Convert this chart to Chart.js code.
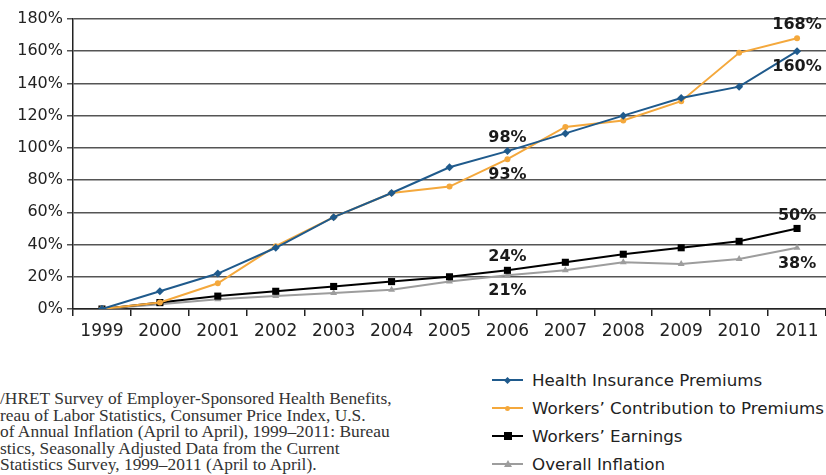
<!DOCTYPE html>
<html lang="en">
<head>
    <meta charset="UTF-8">
    <title>Cumulative Increases in Premiums, Earnings and Inflation, 1999-2011</title>
    <script src="https://cdn.jsdelivr.net/npm/chart.js"></script>
    <style>
        body {
            margin: 0;
            width: 826px;
            height: 475px;
            overflow: hidden;
            background: #fff;
            position: relative;
        }

        /* plot runs a few px past the right edge so the last band meets it */
        .chart-box {
            position: absolute;
            left: 0;
            top: 0;
            width: 831px;
            height: 345px;
        }

        .source-note {
            position: absolute;
            left: 0;
            top: 390px;
            font-family: 'Liberation Serif', 'DejaVu Serif', serif;
            font-size: 17.4px;
            line-height: 16.5px;
            color: #333;
            white-space: pre;
        }

        .legend {
            position: absolute;
            left: 492px;
            top: 366px;
            font-family: 'DejaVu Sans', sans-serif;
            font-size: 16.7px;
            color: #222;
        }

        .legend-item {
            display: flex;
            align-items: center;
            height: 28px;
            white-space: nowrap;
        }

        .legend-swatch {
            position: relative;
            width: 31px;
            height: 12px;
            margin-right: 9px;
        }

        .legend-swatch .line {
            position: absolute;
            left: 0;
            right: 0;
            top: 5px;
            height: 2px;
        }

        .legend-swatch .mark {
            position: absolute;
            left: 50%;
            top: 50%;
        }
    </style>
</head>
<body>
    <div class="chart-box">
        <canvas id="trendChart" width="831" height="345"></canvas>
    </div>

    <div class="source-note" id="sourceNote"></div>
    <div class="legend" id="legend"></div>

    <script>
        const years = ['1999', '2000', '2001', '2002', '2003', '2004', '2005', '2006', '2007', '2008', '2009', '2010', '2011'];
        const healthPremiums = [0, 11, 22, 38, 57, 72, 88, 98, 109, 120, 131, 138, 160];
        const workerContribution = [0, 4, 16, 39, 57, 72, 76, 93, 113, 117, 129, 159, 168];
        const workerEarnings = [0, 4, 8, 11, 14, 17, 20, 24, 29, 34, 38, 42, 50];
        const overallInflation = [0, 3, 6, 8, 10, 12, 17, 21, 24, 29, 28, 31, 38];
        const yTicks = [0, 20, 40, 60, 80, 100, 120, 140, 160, 180];

        // value callouts: dataset index, point index, side of the point
        const callouts = [
            [0, 7, 'above'], [1, 7, 'below'],
            [2, 7, 'above'], [3, 7, 'below'],
            [1, 12, 'above'], [0, 12, 'below'],
            [2, 12, 'above'], [3, 12, 'below']
        ];

        const sourceLines = [
            '/HRET Survey of Employer-Sponsored Health Benefits,',
            'reau of Labor Statistics, Consumer Price Index, U.S.',
            'of Annual Inflation (April to April), 1999\u20132011: Bureau',
            'stics, Seasonally Adjusted Data from the Current',
            'Statistics Survey, 1999\u20132011 (April to April).'
        ];

        const calloutPlugin = {
            id: 'callouts',
            afterDatasetsDraw(chart) {
                const ctx = chart.ctx;
                const x = chart.scales.x;
                const y = chart.scales.y;
                ctx.save();
                ctx.font = 'bold 16px "DejaVu Sans"';
                ctx.fillStyle = '#1a1a1a';
                ctx.textAlign = 'center';
                ctx.textBaseline = 'middle';
                callouts.forEach(([d, i, side]) => {
                    const v = chart.data.datasets[d].data[i];
                    const px = x.getPixelForValue(i);
                    const py = y.getPixelForValue(v) + (side === 'above' ? -13 : 16);
                    ctx.fillText(v + '%', px, py);
                });
                ctx.restore();
            }
        };

        const chart = new Chart(document.getElementById('trendChart'), {
            type: 'line',
            data: {
                labels: years,
                datasets: [
                    {
                        label: 'Health Insurance Premiums',
                        data: healthPremiums,
                        borderColor: '#1f5a8c',
                        backgroundColor: '#1f5a8c',
                        pointStyle: 'rectRot',
                        pointRadius: 4
                    },
                    {
                        label: 'Workers\u2019 Contribution to Premiums',
                        data: workerContribution,
                        borderColor: '#f4a83c',
                        backgroundColor: '#f4a83c',
                        pointStyle: 'circle',
                        pointRadius: 3
                    },
                    {
                        label: 'Workers\u2019 Earnings',
                        data: workerEarnings,
                        borderColor: '#000',
                        backgroundColor: '#000',
                        pointStyle: 'rect',
                        pointRadius: 5
                    },
                    {
                        label: 'Overall Inflation',
                        data: overallInflation,
                        borderColor: '#9d9d9d',
                        backgroundColor: '#9d9d9d',
                        pointStyle: 'triangle',
                        pointRadius: 4
                    }
                ]
            },
            options: {
                responsive: false,
                animation: false,
                elements: {
                    line: { borderWidth: 2, tension: 0 },
                    point: { borderWidth: 0 }
                },
                layout: { padding: { top: 19, right: 0, left: 0, bottom: 0 } },
                plugins: {
                    legend: { display: false },
                    tooltip: { enabled: false }
                },
                scales: {
                    x: {
                        offset: true,
                        grid: {
                            offset: true,
                            drawOnChartArea: false,
                            color: '#222',
                            tickLength: 7,
                            lineWidth: 1.5
                        },
                        border: { color: '#222', width: 1.5 },
                        ticks: {
                            font: { family: 'DejaVu Sans', size: 17 },
                            color: '#222',
                            padding: 5,
                            maxRotation: 0
                        },
                        afterFit(scale) { scale.height = 36; }
                    },
                    y: {
                        min: 0,
                        max: 180,
                        afterBuildTicks(scale) {
                            scale.ticks = yTicks.map(v => ({ value: v }));
                        },
                        grid: { color: '#555', lineWidth: 1.5, tickLength: 6 },
                        border: { color: '#222', width: 1.5 },
                        ticks: {
                            font: { family: 'DejaVu Sans', size: 16 },
                            color: '#222',
                            padding: 4,
                            callback: v => v + '%'
                        },
                        afterFit(scale) { scale.width = 73; }
                    }
                }
            },
            plugins: [calloutPlugin]
        });

        // source note below the plot
        document.getElementById('sourceNote').textContent = sourceLines.join('\n');

        // legend built from the chart's own datasets
        const legend = document.getElementById('legend');
        chart.data.datasets.forEach(ds => {
            const item = document.createElement('div');
            item.className = 'legend-item';
            const swatch = document.createElement('div');
            swatch.className = 'legend-swatch';
            const line = document.createElement('div');
            line.className = 'line';
            line.style.background = ds.borderColor;
            const mark = document.createElement('div');
            mark.className = 'mark';
            if (ds.pointStyle === 'rectRot') {
                Object.assign(mark.style, { width: '5px', height: '5px', marginLeft: '-2.5px', marginTop: '-2.5px', background: ds.borderColor, transform: 'rotate(45deg)' });
            } else if (ds.pointStyle === 'circle') {
                Object.assign(mark.style, { width: '5px', height: '5px', marginLeft: '-2.5px', marginTop: '-2.5px', background: ds.borderColor, borderRadius: '50%' });
            } else if (ds.pointStyle === 'rect') {
                Object.assign(mark.style, { width: '8px', height: '8px', marginLeft: '-4px', marginTop: '-4px', background: ds.borderColor });
            } else {
                Object.assign(mark.style, { width: 0, height: 0, marginLeft: '-4px', marginTop: '-4px', borderLeft: '4px solid transparent', borderRight: '4px solid transparent', borderBottom: '7px solid ' + ds.borderColor });
            }
            swatch.appendChild(line);
            swatch.appendChild(mark);
            const text = document.createElement('span');
            text.textContent = ds.label;
            item.appendChild(swatch);
            item.appendChild(text);
            legend.appendChild(item);
        });
    </script>
</body>
</html>
